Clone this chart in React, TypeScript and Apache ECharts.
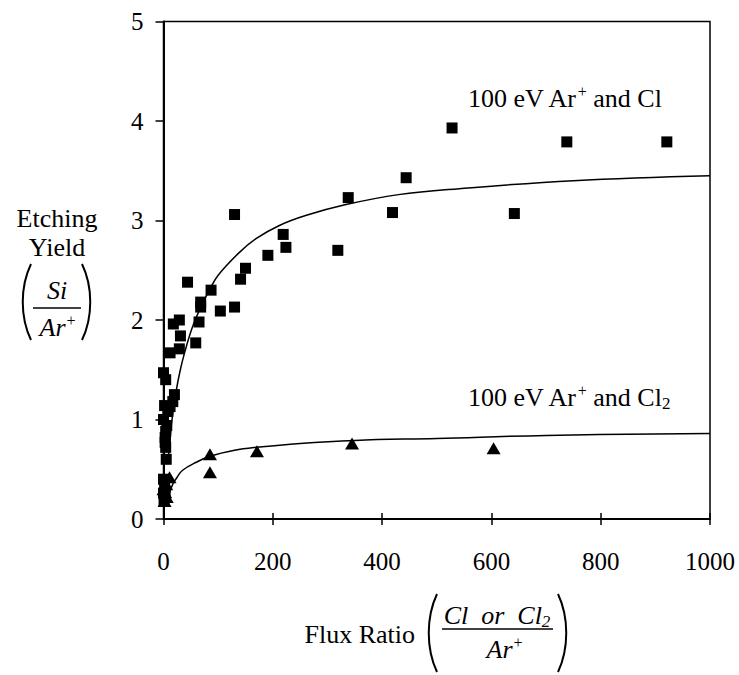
import React, { useEffect, useRef } from "react";
import * as echarts from "echarts";

// ---- data ----
const xTicks = [0, 200, 400, 600, 800, 1000];
const yTicks = [0, 1, 2, 3, 4, 5];

// 100 eV Ar+ and Cl (squares): [flux ratio, etching yield]
const clSquares: number[][] = [
  [528, 3.93], [738, 3.79], [921, 3.79], [642, 3.07], [444, 3.43], [338, 3.23],
  [419, 3.08], [319, 2.70], [130, 3.06], [219, 2.86], [224, 2.73], [191, 2.65],
  [150, 2.52], [141, 2.41], [44, 2.38], [87, 2.30], [68, 2.18], [68, 2.13],
  [104, 2.09], [130, 2.13], [65, 1.98], [29, 2.00], [18, 1.96], [31, 1.84],
  [59, 1.77], [29, 1.71], [12, 1.67],
  [0, 1.47], [4, 1.40], [20, 1.25], [17, 1.18], [12, 1.13], [2, 1.14], [8, 1.08],
  [0, 1.00], [6, 0.94], [4, 0.88], [3, 0.82], [3, 0.77], [4, 0.72], [5, 0.60],
  [0, 0.40], [2, 0.33], [0, 0.26], [3, 0.22], [1, 0.18],
];

// 100 eV Ar+ and Cl2 (triangles)
const cl2Triangles: number[][] = [
  [85, 0.65], [85, 0.47], [171, 0.68], [345, 0.76], [604, 0.71],
  [11, 0.42], [5, 0.35], [0, 0.30], [3, 0.27], [6, 0.22], [2, 0.18],
];

// fitted curves as drawn in the reference
const clFit: number[][] = [
  [8, 0.55], [12, 0.80], [16, 1.02], [23, 1.28], [30, 1.48], [38, 1.66], [53, 1.93],
  [70, 2.15], [84, 2.30], [100, 2.45], [139, 2.68], [170, 2.82], [212, 2.95],
  [260, 3.05], [334, 3.16], [430, 3.26], [541, 3.32], [750, 3.40], [1000, 3.45],
];

const cl2Fit: number[][] = [
  [8, 0.18], [11, 0.26], [17, 0.35], [25, 0.42], [35, 0.49], [60, 0.57],
  [85, 0.63], [130, 0.69], [170, 0.72], [250, 0.76], [350, 0.79], [500, 0.81],
  [700, 0.84], [1000, 0.86],
];

const FONT = '"Liberation Serif", "Times New Roman", serif';

function paren(x: number, top: number, bottom: number, left: boolean) {
  const bow = 11;
  const xe = left ? x + 9 : x;
  const xc = left ? xe - bow : xe + bow;
  return {
    type: "bezierCurve",
    shape: {
      x1: xe, y1: top, x2: xe, y2: bottom,
      cpx1: xc, cpy1: top + (bottom - top) * 0.3,
      cpx2: xc, cpy2: bottom - (bottom - top) * 0.3,
    },
    style: { stroke: "#000", lineWidth: 2, fill: null },
    silent: true,
  };
}

function txt(text: string, x: number, y: number, size: number, italic = false, align = "center") {
  const fs = italic ? "italic" : "normal";
  return {
    type: "text",
    x,
    y,
    silent: true,
    style: {
      text,
      fontFamily: FONT,
      fontSize: size,
      fontStyle: fs,
      fill: "#000",
      align,
      verticalAlign: "middle",
      lineHeight: 30,
      rich: {
        sup: { fontFamily: FONT, fontSize: 16, verticalAlign: "top", fontStyle: fs, lineHeight: 16 },
        sub: { fontFamily: FONT, fontSize: 17, verticalAlign: "bottom", fontStyle: fs, lineHeight: 17 },
      },
    },
  };
}

export default function App() {
  const ref = useRef<HTMLDivElement>(null);
  useEffect(() => {
    if (!ref.current) return;
    const chart = echarts.init(ref.current, null, { renderer: "svg" });
    const axisLabel = { fontFamily: FONT, fontSize: 25, color: "#000" };
    chart.setOption({
      animation: false,
      backgroundColor: "#fff",
      grid: {
        left: 163.5,
        right: 29,
        top: 21.5,
        bottom: 156,
        show: true,
        borderColor: "#000",
        borderWidth: 1.5,
        backgroundColor: "transparent",
      },
      xAxis: [
        {
          type: "value",
          min: xTicks[0],
          max: xTicks[xTicks.length - 1],
          interval: 200,
          position: "bottom",
          splitLine: { show: false },
          axisLine: { show: true, onZero: false, lineStyle: { color: "#000", width: 1.8 } },
          axisTick: { show: true, inside: false, length: 6, lineStyle: { color: "#000", width: 1.5 } },
          axisLabel: { ...axisLabel, margin: 30, formatter: (v: number) => String(v) },
        },
        {
          type: "value",
          min: xTicks[0],
          max: xTicks[xTicks.length - 1],
          interval: 200,
          position: "bottom",
          offset: 0,
          splitLine: { show: false },
          axisLine: { show: false },
          axisTick: { show: true, inside: true, length: 6, lineStyle: { color: "#000", width: 1.5 } },
          axisLabel: { show: false },
        },
      ],
      yAxis: {
        type: "value",
        min: yTicks[0],
        max: yTicks[yTicks.length - 1],
        interval: 1,
        splitLine: { show: false },
        axisLine: { show: true, onZero: false, lineStyle: { color: "#000", width: 2 } },
        axisTick: { show: true, inside: false, length: 8, lineStyle: { color: "#000", width: 1.5 } },
        axisLabel: { ...axisLabel, margin: 20, formatter: (v: number) => String(v) },
      },
      series: [
        {
          type: "line",
          data: clFit,
          smooth: 0.4,
          showSymbol: false,
          lineStyle: { color: "#000", width: 1.5 },
          silent: true,
          z: 1,
        },
        {
          type: "line",
          data: cl2Fit,
          smooth: 0.4,
          showSymbol: false,
          lineStyle: { color: "#000", width: 1.5 },
          silent: true,
          z: 1,
        },
        {
          type: "scatter",
          data: clSquares,
          symbol: "rect",
          symbolSize: 11,
          itemStyle: { color: "#000", opacity: 1 },
          z: 3,
        },
        {
          type: "scatter",
          data: cl2Triangles,
          symbol: "triangle",
          symbolSize: [14, 12],
          itemStyle: { color: "#000", opacity: 1 },
          z: 3,
        },
      ],
      graphic: [
        txt("100 eV Ar{sup|+} and Cl", 468, 98, 26, false, "left"),
        txt("100 eV Ar{sup|+} and Cl{sub|2}", 468, 397, 26, false, "left"),
        // y-axis title
        txt("Etching", 57, 218, 26),
        txt("Yield", 57, 247, 26),
        txt("Si", 57, 290, 26, true),
        { type: "line", silent: true, shape: { x1: 33, y1: 308, x2: 81, y2: 308 }, style: { stroke: "#000", lineWidth: 1.3 } },
        txt("Ar{sup|+}", 58, 327, 26, true),
        paren(22, 264, 340, true),
        paren(82, 264, 340, false),
        // x-axis title
        txt("Flux Ratio", 415, 634, 26, false, "right"),
        txt("Cl  or  Cl{sub|2}", 497, 615, 26, true),
        { type: "line", silent: true, shape: { x1: 442, y1: 629, x2: 553, y2: 629 }, style: { stroke: "#000", lineWidth: 1.3 } },
        txt("Ar{sup|+}", 505, 649, 26, true),
        paren(428, 594, 672, true),
        paren(558, 594, 672, false),
      ],
    });
    return () => chart.dispose();
  }, []);
  return (
    <div
      ref={ref}
      style={{ position: "fixed", left: 0, top: 0, width: 739, height: 675, background: "#fff" }}
    />
  );
}
